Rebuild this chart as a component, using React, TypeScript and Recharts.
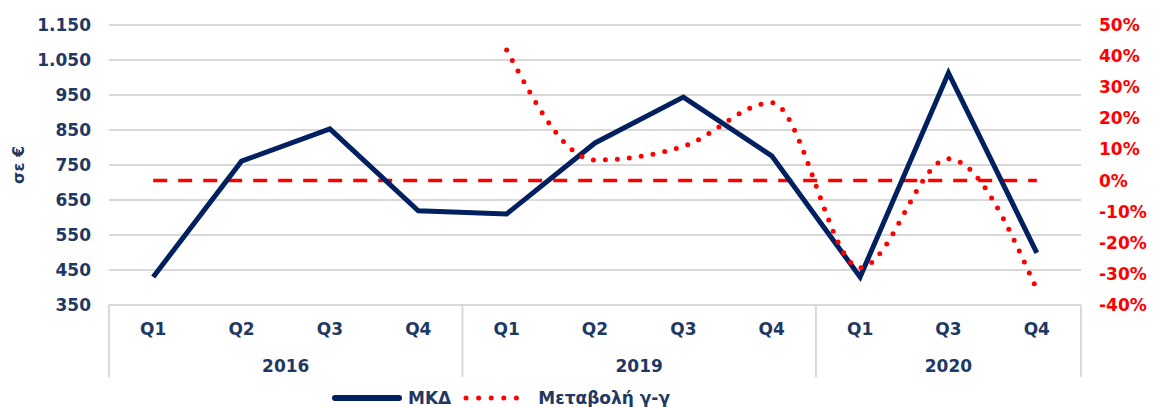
import { ComposedChart, Line, XAxis, YAxis, CartesianGrid, Legend } from "recharts";

const quarters = ["Q1", "Q2", "Q3", "Q4", "Q1", "Q2", "Q3", "Q4", "Q1", "Q3", "Q4"];
const years = ["2016", "2016", "2016", "2016", "2019", "2019", "2019", "2019", "2020", "2020", "2020"];
const mkd = [430, 761, 853, 619, 610, 813, 944, 776, 430, 1013, 499];
const yoy = [null, null, null, null, 42, 6.6, 11, 25, -28, 7, -35];
const zeroLine = [0, 0, 0, 0, 0, 0, 0, 0, 0, 0, 0];

const leftTicks = [350, 450, 550, 650, 750, 850, 950, 1050, 1150];
const rightTicks = [-40, -30, -20, -10, 0, 10, 20, 30, 40, 50];

const data = quarters.map((q, i) => ({
  key: `${years[i]} ${q}`,
  mkd: mkd[i],
  yoy: yoy[i],
  zero: zeroLine[i],
}));

// year groups for the second row of the x axis
const groups: { year: string; start: number; n: number }[] = [];
years.forEach((y, i) => {
  const last = groups[groups.length - 1];
  if (last && last.year === y) last.n += 1;
  else groups.push({ year: y, start: i, n: 1 });
});

const W = 1157;
const H = 407;
const LEFT_W = 109;
const RIGHT_W = 76;
const PLOT_W = W - LEFT_W - RIGHT_W;
const BAND = PLOT_W / quarters.length;

const NAVY = "#002060";
const NAVY_TEXT = "#1F3864";
const RED = "#FF0000";
const GRID = "#D9D9D9";
const FONT = "'DejaVu Sans', Verdana, sans-serif";

const fmtThousands = (v: number) => String(v).replace(/\B(?=(\d{3})+(?!\d))/g, ".");

function XTick(props: any) {
  const { x, y, index } = props;
  const g = groups.find((gr) => gr.start === index);
  const isLast = index === quarters.length - 1;
  return (
    <g>
      <text x={x} y={y + 30} textAnchor="middle" fill={NAVY_TEXT} fontSize={17} fontWeight="bold" fontFamily={FONT}>
        {quarters[index]}
      </text>
      {g && (
        <>
          <line x1={x - BAND / 2} y1={y} x2={x - BAND / 2} y2={y + 72} stroke={GRID} strokeWidth={2} />
          <text
            x={x - BAND / 2 + (g.n * BAND) / 2}
            y={y + 67}
            textAnchor="middle"
            fill={NAVY_TEXT}
            fontSize={17}
            fontWeight="bold"
            fontFamily={FONT}
          >
            {g.year}
          </text>
        </>
      )}
      {isLast && <line x1={x + BAND / 2} y1={y} x2={x + BAND / 2} y2={y + 72} stroke={GRID} strokeWidth={2} />}
    </g>
  );
}

function LegendContent(props: any) {
  const items = (props.payload || []).filter((p: any) => p.type !== "none");
  return (
    <div
      style={{
        display: "flex",
        alignItems: "center",
        fontFamily: FONT,
        fontWeight: "bold",
        fontSize: 17,
        lineHeight: "18px",
        color: NAVY_TEXT,
      }}
    >
      {items.map((p: any, i: number) => (
        <div key={p.value} style={{ display: "flex", alignItems: "center", marginLeft: i === 0 ? 0 : 12 }}>
          {p.dataKey === "mkd" ? (
            <svg width={70} height={10}>
              <line x1={3} y1={5} x2={67} y2={5} stroke={p.color} strokeWidth={6} strokeLinecap="round" />
            </svg>
          ) : (
            <svg width={66} height={10}>
              <line x1={3} y1={5} x2={66} y2={5} stroke={p.color} strokeWidth={5} strokeDasharray="0 12.6" strokeLinecap="round" />
            </svg>
          )}
          <span style={{ marginLeft: p.dataKey === "mkd" ? 6 : 9 }}>{p.value}</span>
        </div>
      ))}
    </div>
  );
}

export default function App() {
  return (
    <div style={{ position: "absolute", left: 0, top: 0 }}>
      <ComposedChart width={W} height={H} data={data} margin={{ top: 25, right: 0, bottom: 0, left: 0 }}>
        <CartesianGrid yAxisId="left" vertical={false} stroke={GRID} strokeWidth={2} />
        <XAxis
          dataKey="key"
          scale="band"
          height={84}
          interval={0}
          tickLine={false}
          tickSize={0}
          tickMargin={0}
          axisLine={{ stroke: GRID, strokeWidth: 2 }}
          tick={<XTick />}
        />
        <YAxis
          yAxisId="left"
          width={LEFT_W}
          domain={[350, 1150]}
          ticks={leftTicks}
          interval={0}
          axisLine={false}
          tickLine={false}
          tickSize={0}
          tickMargin={18}
          tickFormatter={fmtThousands}
          tick={{ fill: NAVY_TEXT, fontSize: 17, fontWeight: "bold", fontFamily: FONT }}
          label={{
            value: "σε €",
            angle: -90,
            position: "insideLeft",
            offset: 18,
            style: { textAnchor: "middle", fill: NAVY_TEXT, fontSize: 16, fontWeight: "bold", fontFamily: FONT },
          }}
        />
        <YAxis
          yAxisId="right"
          orientation="right"
          width={RIGHT_W}
          domain={[-40, 50]}
          ticks={rightTicks}
          interval={0}
          axisLine={false}
          tickLine={false}
          tickSize={0}
          tickMargin={18}
          tickFormatter={(v: number) => `${v}%`}
          tick={{ fill: RED, fontSize: 17, fontWeight: "bold", fontFamily: FONT, textAnchor: "start" }}
        />
        <Legend
          verticalAlign="bottom"
          align="left"
          height={18}
          wrapperStyle={{ left: 332, bottom: 0 }}
          content={<LegendContent />}
        />
        <Line
          yAxisId="right"
          dataKey="zero"
          stroke={RED}
          strokeWidth={3.5}
          strokeDasharray="14 11"
          dot={false}
          legendType="none"
          isAnimationActive={false}
        />
        <Line
          yAxisId="left"
          dataKey="mkd"
          name="ΜΚΔ"
          type="linear"
          stroke={NAVY}
          strokeWidth={5}
          dot={false}
          isAnimationActive={false}
        />
        <Line
          yAxisId="right"
          dataKey="yoy"
          name="Μεταβολή γ-γ"
          type="monotone"
          stroke={RED}
          strokeWidth={5}
          strokeDasharray="0 12"
          strokeLinecap="round"
          dot={false}
          isAnimationActive={false}
        />
      </ComposedChart>
    </div>
  );
}
